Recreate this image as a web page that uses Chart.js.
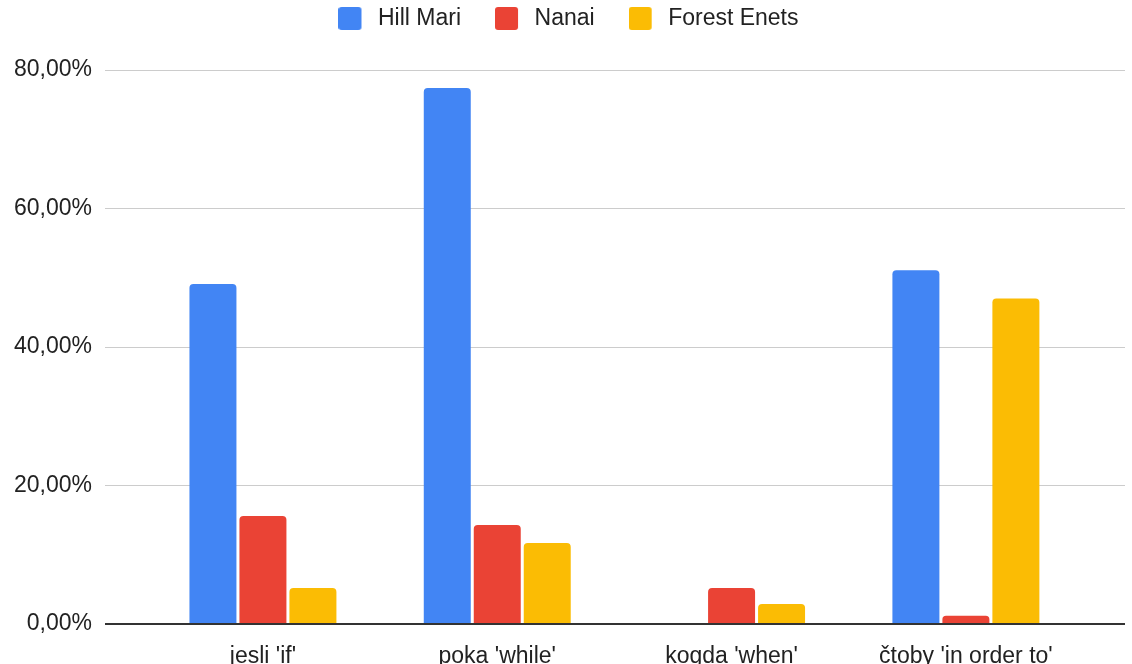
<!DOCTYPE html>
<html>
<head>
<meta charset="utf-8">
<title>Conjunctions</title>
<script src="https://cdn.jsdelivr.net/npm/chart.js@4.4.1/dist/chart.umd.min.js"></script>
<style>
  html, body { margin: 0; padding: 0; background: #fff; }
  #wrap { width: 1132px; height: 664px; }
</style>
</head>
<body>
<div id="wrap"><canvas id="chart" width="1132" height="664"></canvas></div>
<script>
// --- Data ---
const categories = ["jesli 'if'", "poka 'while'", "kogda 'when'", "čtoby 'in order to'"];
const hillMari = [49.1, 77.4, 0, 51.1];
const nanai = [15.6, 14.3, 5.2, 1.2];
const forestEnets = [5.2, 11.7, 2.9, 47.0];
const yTicks = [0, 20, 40, 60, 80];

const FONT = '"Liberation Sans", Arial, sans-serif';
const FONT_SIZE = 23;
const COLORS = ['#4285F4', '#EA4335', '#FBBC04'];

// legend swatch: rounded square on the left, transparent strip on the right
// so the label text sits a little further from the box
function swatch(color) {
    const c = document.createElement('canvas');
    c.width = 28;
    c.height = 23;
    const g = c.getContext('2d');
    g.fillStyle = color;
    g.beginPath();
    g.roundRect(0, 0, 23, 23, 3);
    g.fill();
    return c;
}

// bars sit on a numeric x axis so the groups can be inset from the gridline ends
const toPoints = arr => arr.map((v, i) => ({ x: i, y: v }));

// keep the legend block tall enough to push the plot down
const legendHeight = {
    id: 'legendHeight',
    beforeInit(chart) {
        const fit = chart.legend.fit;
        chart.legend.fit = function () {
            fit.call(this);
            this.height = 97;
        };
    }
};

const ctx = document.getElementById('chart');
new Chart(ctx.getContext('2d'), {
    type: 'bar',
    data: {
        datasets: [
            { label: 'Hill Mari', data: toPoints(hillMari), backgroundColor: COLORS[0], pointStyle: swatch(COLORS[0]) },
            { label: 'Nanai', data: toPoints(nanai), backgroundColor: COLORS[1], pointStyle: swatch(COLORS[1]) },
            { label: 'Forest Enets', data: toPoints(forestEnets), backgroundColor: COLORS[2], pointStyle: swatch(COLORS[2]) }
        ]
    },
    plugins: [legendHeight],
    options: {
        responsive: false,
        animation: false,
        layout: { padding: { left: 12, right: 7, top: -27, bottom: 0 } },
        datasets: {
            bar: {
                categoryPercentage: 0.64,
                barPercentage: 0.94,
                borderRadius: 4,
                borderSkipped: 'bottom'
            }
        },
        plugins: {
            legend: {
                position: 'top',
                align: 'center',
                labels: {
                    font: { family: FONT, size: FONT_SIZE },
                    color: '#222',
                    usePointStyle: true,
                    pointStyleWidth: 28,
                    boxHeight: 23,
                    padding: 34
                }
            },
            tooltip: { enabled: false }
        },
        scales: {
            x: {
                type: 'linear',
                offset: false,
                min: -0.674,
                max: 3.679,
                afterFit: scale => { scale.height = 40; },
                grid: { display: false },
                border: { display: false },
                ticks: {
                    stepSize: 1,
                    includeBounds: false,
                    autoSkip: false,
                    maxRotation: 0,
                    padding: 11,
                    font: { family: FONT, size: FONT_SIZE },
                    color: '#222',
                    callback: v => categories[v] ?? ''
                }
            },
            y: {
                min: 0,
                max: 80,
                afterFit: scale => { scale.width = 93; },
                afterBuildTicks: scale => { scale.ticks = yTicks.map(v => ({ value: v })); },
                grid: {
                    drawTicks: false,
                    color: ctx => ctx.tick && ctx.tick.value === 0 ? '#333' : '#cccccc',
                    lineWidth: ctx => ctx.tick && ctx.tick.value === 0 ? 2 : 1
                },
                border: { display: false },
                ticks: {
                    padding: 13,
                    font: { family: FONT, size: FONT_SIZE },
                    color: '#222',
                    callback: v => v.toFixed(2).replace('.', ',') + '%'
                }
            }
        }
    }
});
</script>
</body>
</html>
